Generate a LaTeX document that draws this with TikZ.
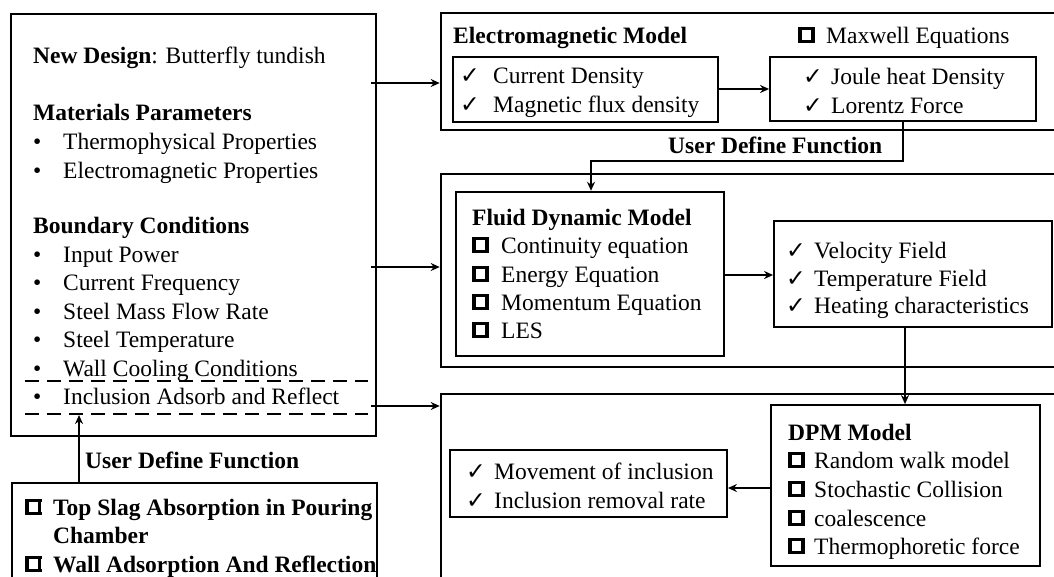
\documentclass[tikz,border=0pt]{standalone}
\usepackage{fontspec}
\setmainfont{Liberation Serif}
\newfontfamily\symf{DejaVu Sans}
\usetikzlibrary{arrows.meta,fit}
\newcommand\hsq[2]{\raisebox{#2}{\setlength{\fboxrule}{#2}\setlength{\fboxsep}{0pt}\fbox{\rule{0pt}{#1}\hspace{#1}}}}
\newcommand\ck{{\symf\scalebox{1.0}{✓}}}
\newcommand\sq{\hsq{9.5pt}{3.4pt}}
\newcommand\mk[2]{\makebox[#1pt][l]{#2}}
\tikzset{
  big/.style={anchor=base west, inner sep=0pt, font=\fontsize{23.5}{28}\selectfont},
  outerbox/.style={draw, line width=2.6pt, inner sep=0pt},
  innerbox/.style={draw, line width=2.4pt, inner sep=0pt},
  thinbox/.style={draw, line width=1.8pt, inner sep=0pt},
  arr/.style={line width=2.4pt, -{Stealth[length=9pt,width=8pt]}},
  dashline/.style={line width=2.4pt, dash pattern=on 14pt off 8pt},
}
\begin{document}
\begin{tikzpicture}[x=1pt,y=-1pt]
\clip (0,0) rectangle (1054,576);
\fill[white] (0,0) rectangle (1054,576);
% boxes
\node[outerbox, fit={(11,14)(376,436)}] (lbox) {};
\node[outerbox, fit={(441,13)(1075,130)}] (em) {};
\node[innerbox, fit={(453,57)(718,122)}] (cd) {};
\node[thinbox, fit={(770,57)(1036,121)}] (jl) {};
\node[outerbox, fit={(441,174)(1075,367)}] (fd) {};
\node[innerbox, fit={(456,192)(724,356)}] (fdi) {};
\node[thinbox, fit={(774,221)(1052,327)}] (res) {};
\node[outerbox, fit={(441,394)(1075,620)}] (dpm) {};
\node[thinbox, fit={(771,405)(1040,566)}] (dpmi) {};
\node[thinbox, fit={(450,450)(727,517)}] (mov) {};
\node[outerbox, fit={(12,483)(377,620)}] (bbox) {};
% left box text
\node[big] (t1) at (33,63) {\textbf{New Design}: Butterfly tundish};
\node[big] (t2) at (33,120) {\textbf{Materials Parameters}};
\node[big] (t3) at (33,149) {\mk{30}{•}Thermophysical Properties};
\node[big] (t4) at (33,178) {\mk{30}{•}Electromagnetic Properties};
\node[big] (t5) at (33,233) {\textbf{Boundary Conditions}};
\node[big] (t6) at (33,262) {\mk{30}{•}Input Power};
\node[big] (t7) at (33,290.5) {\mk{30}{•}Current Frequency};
\node[big] (t8) at (33,319) {\mk{30}{•}Steel Mass Flow Rate};
\node[big] (t9) at (33,347.5) {\mk{30}{•}Steel Temperature};
\node[big] (t10) at (33,376) {\mk{30}{•}Wall Cooling Conditions};
\node[big] (t11) at (33,404.5) {\mk{30}{•}Inclusion Adsorb and Reflect};
\coordinate (d1a) at (25,381); \coordinate (d1b) at (368,381);
\coordinate (d2a) at (25,414); \coordinate (d2b) at (368,414);
\draw[dashline] (d1a) -- (d1b);
\draw[dashline] (d2a) -- (d2b);
% bottom-left box text
\node[big] (u1) at (85,468) {\textbf{User Define Function}};
\node[big] (b1) at (25,515) {\mk{28}{\sq}\textbf{Top Slag Absorption in Pouring}};
\node[big] (b2) at (53,543) {\textbf{Chamber}};
\node[big] (b3) at (25,572) {\mk{28}{\sq}\textbf{Wall Adsorption And Reflection}};
% EM box text
\node[big] (e1) at (453,43) {\textbf{Electromagnetic Model}};
\node[big] (e2) at (798,43) {\mk{28}{\sq}Maxwell Equations};
\node[big] (e3) at (460,83) {\mk{33}{\ck}Current Density};
\node[big] (e4) at (460,112) {\mk{33}{\ck}Magnetic flux density};
\node[big] (e5) at (803,84) {\mk{28}{\ck}Joule heat Density};
\node[big] (e6) at (803,113) {\mk{28}{\ck}Lorentz Force};
\node[big] (u2) at (668,153) {\textbf{User Define Function}};
% fluid text
\node[big] (f1) at (472,225) {\textbf{Fluid Dynamic Model}};
\node[big] (f2) at (472,253) {\mk{29}{\sq}Continuity equation};
\node[big] (f3) at (472,282) {\mk{29}{\sq}Energy Equation};
\node[big] (f4) at (472,310) {\mk{29}{\sq}Momentum Equation};
\node[big] (f5) at (472,338) {\mk{29}{\sq}LES};
\node[big] (r1) at (786,258) {\mk{28}{\ck}Velocity Field};
\node[big] (r2) at (786,286) {\mk{28}{\ck}Temperature Field};
\node[big] (r3) at (786,313) {\mk{28}{\ck}Heating characteristics};
% DPM text
\node[big] (p1) at (788,440) {\textbf{DPM Model}};
\node[big] (p2) at (788,468) {\mk{26}{\sq}Random walk model};
\node[big] (p3) at (788,497) {\mk{26}{\sq}Stochastic Collision};
\node[big] (p4) at (788,526) {\mk{26}{\sq}coalescence};
\node[big] (p5) at (788,554) {\mk{26}{\sq}Thermophoretic force};
\node[big] (m1) at (466,479) {\mk{28}{\ck}Movement of inclusion};
\node[big] (m2) at (466,508) {\mk{28}{\ck}Inclusion removal rate};
% connectors
\draw[arr] ([xshift=-6pt]lbox.east |- 0,83) -- (em.west |- 0,83);
\draw[arr] ([xshift=-6pt]lbox.east |- 0,267) -- (fd.west |- 0,267);
\draw[arr] ([xshift=-6pt]lbox.east |- 0,406) -- (dpm.west |- 0,406);
\draw[arr] (cd.east |- 0,89) -- (jl.west |- 0,89);
\draw[arr] (fdi.east |- 0,275) -- (res.west |- 0,275);
\draw[arr] (dpmi.west |- 0,488) -- (mov.east |- 0,488);
\draw[arr] (jl.south -| 903,0) -- (903,161) -- (591,161) -- (fdi.north -| 591,0);
\draw[arr] (res.south -| 905,0) -- (dpmi.north -| 905,0);
\draw[arr] (bbox.north -| 79,0) -- (79,415);
\end{tikzpicture}
\end{document}
